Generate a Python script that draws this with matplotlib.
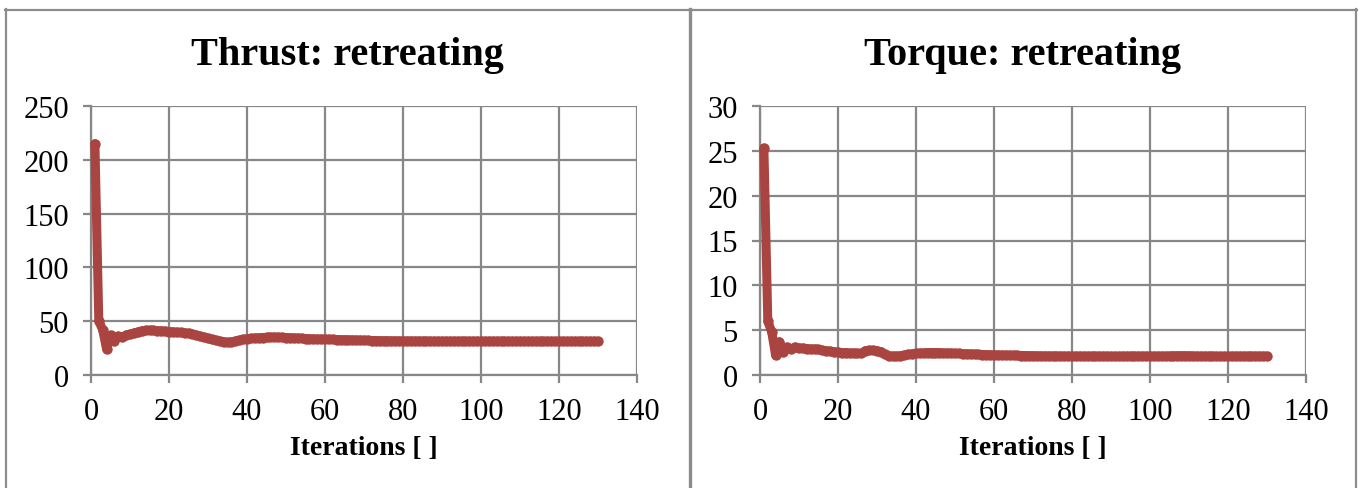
import matplotlib
matplotlib.use("Agg")
import matplotlib.pyplot as plt
from matplotlib.lines import Line2D

# ---------------- data ----------------
iterations = list(range(1, 131))

thrust = [
    215, 50, 42, 24, 37, 32, 36, 35, 37, 38,
    39, 40, 41, 41.5, 41.5, 41.5, 41.3, 41, 40.7, 40.4,
    40.1, 39.8, 39.5, 39.2, 38.8, 38, 37, 36, 35, 34,
    33, 32.2, 31.4, 30.8, 30.4, 30.6, 31.4, 32.2, 33, 33.6,
    34, 34.3, 34.6, 34.8, 35, 35.1, 35.2, 35.1, 35, 34.8,
    34.6, 34.4, 34.2, 34, 33.8, 33.6, 33.5, 33.4, 33.3, 33.2,
    33.1, 33, 32.9, 32.8, 32.7, 32.6, 32.5, 32.4, 32.3, 32.2,
    32.1, 32, 31.9, 31.9, 31.8, 31.8, 31.7, 31.7, 31.6, 31.6,
    31.6, 31.5, 31.5, 31.5, 31.5, 31.4, 31.4, 31.4, 31.4, 31.4,
    31.3, 31.3, 31.3, 31.3, 31.3, 31.3, 31.3, 31.3, 31.3, 31.3,
    31.3, 31.3, 31.3, 31.3, 31.3, 31.3, 31.3, 31.3, 31.4, 31.4,
    31.3, 31.3, 31.3, 31.3, 31.3, 31.3, 31.3, 31.3, 31.3, 31.3,
    31.3, 31.3, 31.3, 31.3, 31.3, 31.3, 31.3, 31.3, 31.3, 31.3,
]

torque = [
    25.3, 6.0, 4.8, 2.2, 3.7, 2.6, 3.1, 2.9, 3.1, 3.0,
    3.0, 2.95, 2.9, 2.9, 2.85, 2.75, 2.7, 2.65, 2.6, 2.55,
    2.5, 2.5, 2.45, 2.45, 2.4, 2.4, 2.7, 2.75, 2.75, 2.7,
    2.6, 2.3, 2.15, 2.1, 2.1, 2.15, 2.2, 2.3, 2.35, 2.4,
    2.45, 2.45, 2.5, 2.5, 2.5, 2.5, 2.45, 2.45, 2.45, 2.4,
    2.4, 2.38, 2.36, 2.34, 2.32, 2.3, 2.28, 2.26, 2.25, 2.24,
    2.23, 2.22, 2.21, 2.2, 2.19, 2.18, 2.17, 2.16, 2.15, 2.15,
    2.14, 2.13, 2.12, 2.12, 2.11, 2.11, 2.1, 2.1, 2.1, 2.1,
    2.1, 2.1, 2.1, 2.1, 2.1, 2.1, 2.09, 2.09, 2.09, 2.08,
    2.08, 2.08, 2.1, 2.1, 2.1, 2.1, 2.1, 2.1, 2.1, 2.1,
    2.1, 2.1, 2.1, 2.1, 2.12, 2.14, 2.15, 2.15, 2.15, 2.14,
    2.12, 2.1, 2.1, 2.1, 2.1, 2.1, 2.08, 2.08, 2.08, 2.08,
    2.1, 2.1, 2.1, 2.1, 2.1, 2.1, 2.1, 2.1, 2.1, 2.1,
]

titles = ["Thrust: retreating", "Torque: retreating"]
xlabel = "Iterations [ ]"
x_ticks = [0, 20, 40, 60, 80, 100, 120, 140]
thrust_ticks = [0, 50, 100, 150, 200, 250]
torque_ticks = [0, 5, 10, 15, 20, 25, 30]

# ---------------- style ----------------
W, H = 1364, 489
plt.rcParams['font.family'] = ['Liberation Serif', 'DejaVu Serif']
GRID = '#878787'
LINE = '#A94441'

fig = plt.figure(figsize=(W / 100, H / 100), dpi=100)

def px_axes(x0, x1, ytop, ybot):
    return fig.add_axes([x0 / W, (H - ybot) / H, (x1 - x0) / W, (ybot - ytop) / H])

ax1 = px_axes(91, 637, 107, 376)
ax2 = px_axes(760, 1306, 107, 376)

for ax, y, yt, ttl, box_c in [(ax1, thrust, thrust_ticks, titles[0], 347.5),
                               (ax2, torque, torque_ticks, titles[1], 1023)]:
    ax.plot(iterations, y, color=LINE, lw=6.5, marker='o', ms=7.5, mew=0,
            solid_capstyle='round', solid_joinstyle='round', zorder=3, clip_on=False)
    ax.set_xlim(0, 140)
    ax.set_ylim(yt[0], yt[-1])
    ax.set_xticks(x_ticks)
    ax.set_yticks(yt)
    ax.grid(True, color=GRID, lw=1.6)
    ax.set_axisbelow(True)
    for s in ['top', 'right']:
        ax.spines[s].set_visible(False)
    for s in ['left', 'bottom']:
        ax.spines[s].set_color(GRID)
        ax.spines[s].set_linewidth(1.6)
    ax.tick_params(direction='out', length=6, width=1.6, color=GRID,
                   labelsize=22, pad=10)
    ax.set_xlabel(xlabel, fontsize=20, fontweight='bold', labelpad=6)
    fig.text(box_c / W, (H - 55) / H, ttl, ha='center', va='center',
             fontsize=29, fontweight='bold')

# outer chart frames
BOX = '#8c8c8c'
fig.add_artist(Line2D([5 / W, 1357 / W], [(H - 10.5) / H] * 2, color=BOX, lw=1.6))
fig.add_artist(Line2D([6 / W] * 2, [0, (H - 10) / H], color=BOX, lw=1.6))
fig.add_artist(Line2D([689.5 / W] * 2, [0, (H - 10) / H], color=BOX, lw=2.4))
fig.add_artist(Line2D([1356 / W] * 2, [0, (H - 10) / H], color=BOX, lw=1.6))

fig.savefig('out.png', dpi=100)
